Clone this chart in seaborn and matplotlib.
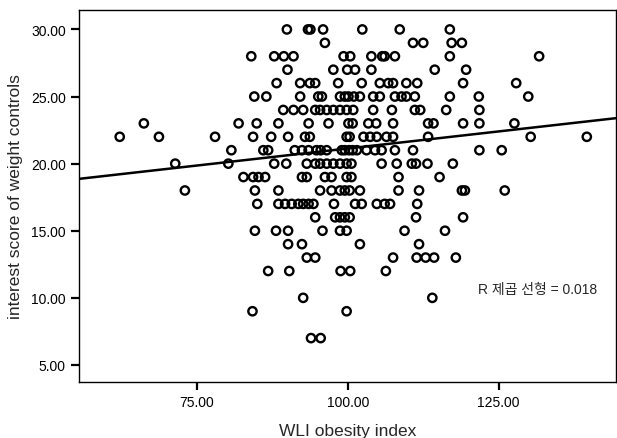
import numpy as np
import pandas as pd
import matplotlib
matplotlib.use("Agg")
import matplotlib.pyplot as plt
from matplotlib.ticker import FormatStrFormatter
import seaborn as sns

# WLI obesity index and interest score
wli = [
    89.9, 93.4, 93.8, 95.9, 102.4, 108.6, 116.9,  # 30
    96.2, 110.8, 112.5, 117.2, 118.9,  # 29
    84.0, 87.8, 89.4, 91.0, 99.3, 100.4, 103.9, 105.7, 106.1, 107.8, 116.9, 131.7,  # 28
    90.0, 97.6, 99.9, 101.2, 103.9, 114.4, 119.6,  # 27
    88.2, 92.1, 93.7, 94.6, 98.4, 102.3, 105.3, 106.7, 107.5, 109.7, 111.5, 119.1, 127.9,  # 26
    84.5, 86.5, 92.1, 95.1, 95.7, 98.7, 99.5, 100.1, 101.0, 102.0, 104.2, 105.3,
    107.8, 108.9, 109.7, 111.1, 116.9, 121.7, 129.9,  # 25
    89.3, 91.0, 92.6, 94.6, 95.4, 96.5, 97.6, 98.7, 99.8, 100.9, 104.2, 107.3,
    111.1, 112.0, 116.3, 121.8,  # 24
    66.2, 81.9, 84.9, 88.5, 93.5, 96.8, 100.1, 100.8, 103.4, 104.7, 107.5, 113.3,
    114.2, 119.1, 121.8, 127.6,  # 23
    62.2, 68.7, 78.0, 84.3, 87.3, 90.1, 92.9, 93.7, 99.8, 100.3, 102.6, 103.7,
    104.8, 106.4, 107.5, 113.3, 130.3, 139.6,  # 22
    80.7, 86.0, 86.8, 91.2, 92.4, 93.5, 94.8, 95.5, 96.5, 99.0, 99.5, 100.2,
    100.8, 101.5, 103.1, 104.5, 105.6, 107.8, 110.8, 121.8, 125.5,  # 21
    71.4, 80.2, 87.8, 89.8, 93.2, 94.6, 95.4, 96.5, 97.6, 98.7, 99.8, 100.6,
    105.6, 108.1, 110.6, 111.3, 113.2, 117.4,  # 20
    82.7, 84.3, 85.2, 86.3, 92.4, 93.2, 96.2, 97.3, 99.8, 100.6, 108.4, 115.2,  # 19
    73.0, 84.6, 88.5, 95.4, 97.3, 98.7, 99.5, 100.3, 102.0, 108.4, 111.8, 118.9,
    119.4, 126.0,  # 18
    85.0, 88.5, 89.6, 90.7, 91.8, 92.6, 93.5, 94.3, 97.7, 101.2, 102.3, 104.8,
    106.1, 107.0, 111.5,  # 17
    94.6, 97.9, 98.7, 99.5, 100.3, 111.3, 119.1,  # 16
    84.6, 88.1, 90.1, 95.8, 98.7, 99.8, 109.4, 116.1,  # 15
    90.1, 92.4, 102.0, 111.8,  # 14
    93.2, 94.6, 107.5, 111.4, 112.9, 114.3, 117.9,  # 13
    86.8, 90.3, 98.8, 100.4, 106.3,  # 12
    92.6, 114.0,  # 10
    84.2, 99.8,  # 9
    93.9, 95.5,  # 7
]
row_scores = [30, 29, 28, 27, 26, 25, 24, 23, 22, 21, 20, 19, 18, 17, 16, 15, 14, 13, 12, 10, 9, 7]
row_counts = [7, 5, 12, 7, 13, 19, 16, 16, 18, 21, 18, 12, 14, 15, 7, 8, 4, 7, 5, 2, 2, 2]
score = [s for s, n in zip(row_scores, row_counts) for _ in range(n)]

df = pd.DataFrame({"wli": wli, "score": score})
r2_text = "R 제곱 선형 = 0.018"

sns.set_style("ticks")
plt.rcParams["font.family"] = ["Liberation Sans", "Noto Sans CJK KR"]

fig = plt.figure(figsize=(6.17, 4.39), dpi=100)
ax = fig.add_axes([0.128, 0.1276, 0.870, 0.8474])
ax.set_xlim(55.45, 144.4)
ax.set_ylim(3.73, 31.45)

sns.regplot(data=df, x="wli", y="score", ci=None, truncate=False, ax=ax,
            scatter_kws=dict(s=36, facecolors="none", edgecolors="black",
                             linewidths=1.7, alpha=1),
            line_kws=dict(color="black", lw=1.8))
ax.set_xlim(55.45, 144.4)
ax.set_ylim(3.73, 31.45)

ax.set_xticks([75, 100, 125])
ax.set_yticks([5, 10, 15, 20, 25, 30])
ax.xaxis.set_major_formatter(FormatStrFormatter("%.2f"))
ax.yaxis.set_major_formatter(FormatStrFormatter("%.2f"))
ax.tick_params(axis="both", direction="out", length=6, width=1.6, labelsize=10, colors="black")
for sp in ax.spines.values():
    sp.set_color("black")
    sp.set_linewidth(1.0)

ax.set_xlabel("WLI obesity index", fontsize=12.5, labelpad=10)
ax.set_ylabel("interest score of weight controls", fontsize=12.5, labelpad=6)
ax.text(0.743, 0.25, r2_text, transform=ax.transAxes, fontsize=10, va="center", ha="left")

fig.savefig("out.png", dpi=100)
